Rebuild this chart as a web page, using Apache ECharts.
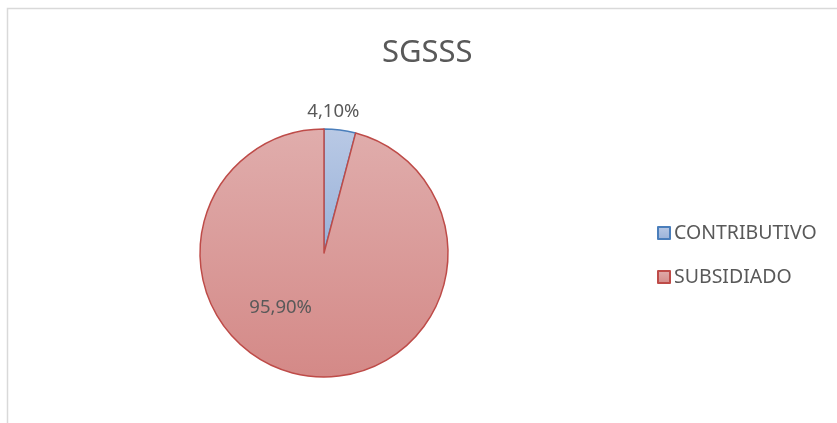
<!DOCTYPE html>
<html>
<head>
<meta charset="utf-8">
<script src="https://cdn.jsdelivr.net/npm/echarts@6/dist/echarts.min.js"></script>
<style>
  html, body { margin: 0; padding: 0; background: #fff; }
  #chart { width: 837px; height: 423px; }
</style>
</head>
<body>
<div id="chart"></div>
<script>
const titleText = 'SGSSS';
const categories = ['CONTRIBUTIVO', 'SUBSIDIADO'];
const values = [4.1, 95.9];
const labels = ['4,10%', '95,90%'];

const chart = echarts.init(document.getElementById('chart'));

const fills = [
  new echarts.graphic.LinearGradient(0, 0, 0, 1, [
    { offset: 0, color: '#b9c9e5' },
    { offset: 1, color: '#98b1d8' },
  ]),
  new echarts.graphic.LinearGradient(0, 0, 0, 1, [
    { offset: 0, color: '#e0adac' },
    { offset: 1, color: '#d48987' },
  ]),
];
const borders = ['#4a7ebb', '#be4b48'];
// Excel puts the labels by "best fit", so nudge them from the inside spot
const labelOffsets = [[1, -77], [-35, -10]];

const option = {
  backgroundColor: '#fff',
  animation: false,
  title: {
    text: titleText,
    left: 377,
    top: 33,
    textStyle: { fontFamily: 'Noto Sans', fontSize: 31, fontWeight: 'normal', color: '#595959' },
  },
  graphic: [
    {
      type: 'rect',
      shape: { x: 7.5, y: 8.5, width: 900, height: 500 },
      style: { fill: 'none', stroke: '#d9d9d9', lineWidth: 1.5 },
      silent: true,
    },
  ],
  legend: {
    orient: 'vertical',
    left: 652,
    top: 218,
    itemWidth: 12,
    itemHeight: 12,
    itemGap: 24,
    icon: 'rect',
    data: categories,
    textStyle: { fontFamily: 'Noto Sans', fontSize: 19.5, color: '#595959', padding: [0, 0, 0, -1] },
  },
  series: [
    {
      type: 'pie',
      center: [324, 253],
      radius: 124,
      startAngle: 90,
      clockwise: true,
      labelLine: { show: false },
      emphasis: { disabled: true },
      data: categories.map((name, i) => ({
        name: name,
        value: values[i],
        itemStyle: { color: fills[i], borderColor: borders[i], borderWidth: 1.5 },
        label: {
          show: true,
          position: 'inside',
          formatter: labels[i],
          offset: labelOffsets[i],
          fontFamily: 'Noto Sans',
          fontSize: 18.5,
          color: '#595959',
        },
      })),
    },
  ],
};
chart.setOption(option);
</script>
</body>
</html>
